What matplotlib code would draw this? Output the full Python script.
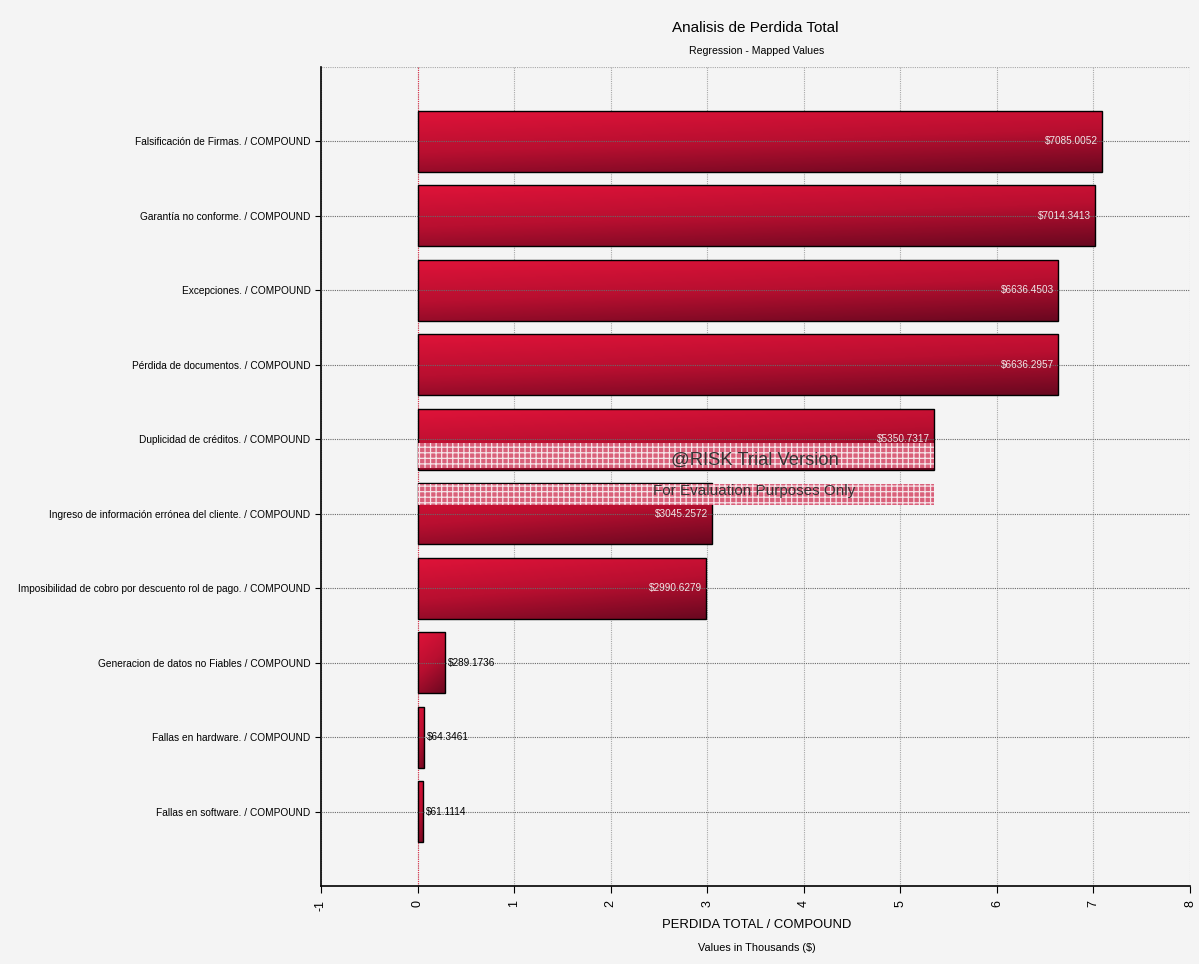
import numpy as np
import matplotlib.pyplot as plt
from matplotlib.colors import LinearSegmentedColormap
from matplotlib.patches import Rectangle

plt.rcParams['font.family'] = ['Liberation Sans', 'DejaVu Sans']
plt.rcParams['hatch.linewidth'] = 0.9

# Datos del grafico
categorias = [
    'Falsificación de Firmas. / COMPOUND',
    'Garantía no conforme. / COMPOUND',
    'Excepciones. / COMPOUND',
    'Pérdida de documentos. / COMPOUND',
    'Duplicidad de créditos. / COMPOUND',
    'Ingreso de información errónea del cliente. / COMPOUND',
    'Imposibilidad de cobro por descuento rol de pago. / COMPOUND',
    'Generacion de datos no Fiables / COMPOUND',
    'Fallas en hardware. / COMPOUND',
    'Fallas en software. / COMPOUND',
]
valores = [7085.0052, 7014.3413, 6636.4503, 6636.2957, 5350.7317,
           3045.2572, 2990.6279, 289.1736, 64.3461, 61.1114]
xticks = [-1, 0, 1, 2, 3, 4, 5, 6, 7, 8]

bg = '#f4f4f4'
fig = plt.figure(figsize=(11.99, 9.64), dpi=100, facecolor=bg)
ax = fig.add_axes([321 / 1199, 1 - 886 / 964, (1190 - 321) / 1199, (886 - 67) / 964])
ax.set_facecolor(bg)

miles = [v / 1000 for v in valores]
pos = np.arange(len(categorias))
alto = 0.82

# degradado rojo de las barras
cmap = LinearSegmentedColormap.from_list('rojo', ['#e01339', '#b80f30', '#6a0820'])
yy, xx = np.mgrid[0:1:60j, 0:1:200j]
grad = yy * 0.75 + xx * 0.3

ax.set_xlim(-1, 8)
ax.set_ylim(len(categorias), -1)

for i, v in enumerate(miles):
    y0 = pos[i] - alto / 2
    rect = Rectangle((0, y0), v, alto, facecolor='none', edgecolor='black', lw=1.0, zorder=4)
    ax.add_patch(rect)
    im = ax.imshow(grad, cmap=cmap, extent=[0, v, y0 + alto, y0], aspect='auto',
                   interpolation='bilinear', zorder=3)
    im.set_clip_path(rect)
    if v > 1:
        ax.text(v - 0.04, pos[i], '$' + f'{valores[i]:.4f}', ha='right', va='center',
                color='#f2e6e8', fontsize=7.2, zorder=6)
    else:
        ax.text(v + 0.03, pos[i], '$' + f'{valores[i]:.4f}', ha='left', va='center',
                color='black', fontsize=7.2, zorder=6)

# rejilla punteada
for x in xticks:
    ax.axvline(x, color='#a8a8a8', lw=0.8, ls=(0, (1, 1)), zorder=1)
for p in pos:
    ax.axhline(p, color='#6a6a6a', lw=0.8, ls=(0, (1, 1)), zorder=5)
ax.axhline(-1, color='#a8a8a8', lw=0.8, ls=(0, (1, 1)), zorder=1)
ax.axvline(0, color='#e0304a', lw=0.8, ls=(0, (1, 1)), zorder=2)

# marca de agua de la version de prueba
for ya, yb in [(4.05, 4.39), (4.60, 4.88)]:
    ax.add_patch(Rectangle((0, ya), 5.35, yb - ya, facecolor='#d9607a', edgecolor='#f6e4e8',
                           hatch='+++', lw=0, zorder=5))
ax.text(3.49, 4.28, '@RISK Trial Version', ha='center', va='center', fontsize=13.2,
        color='#333333', zorder=7)
ax.text(3.49, 4.70, 'For Evaluation Purposes Only', ha='center', va='center', fontsize=11,
        color='#333333', zorder=7)

ax.set_xticks(xticks)
ax.set_xticklabels([str(x) for x in xticks], rotation=90, fontsize=9)
ax.set_yticks(pos)
ax.set_yticklabels(categorias, fontsize=7.3)
ax.tick_params(axis='x', length=5, pad=5)
ax.tick_params(axis='y', length=4)
for s in ['top', 'right']:
    ax.spines[s].set_visible(False)
for s in ['left', 'bottom']:
    ax.spines[s].set_linewidth(1.2)

fig.text(755 / 1199, 1 - 28 / 964, 'Analisis de Perdida Total', ha='center', va='center', fontsize=11)
fig.text(757 / 1199, 1 - 51 / 964, 'Regression - Mapped Values', ha='center', va='center', fontsize=7.6)
fig.text(757 / 1199, 1 - 925 / 964, 'PERDIDA TOTAL / COMPOUND', ha='center', va='center', fontsize=9.4)
fig.text(757 / 1199, 1 - 948 / 964, 'Values in Thousands ($)', ha='center', va='center', fontsize=7.8)

fig.savefig('out.png', dpi=100, facecolor=bg)
